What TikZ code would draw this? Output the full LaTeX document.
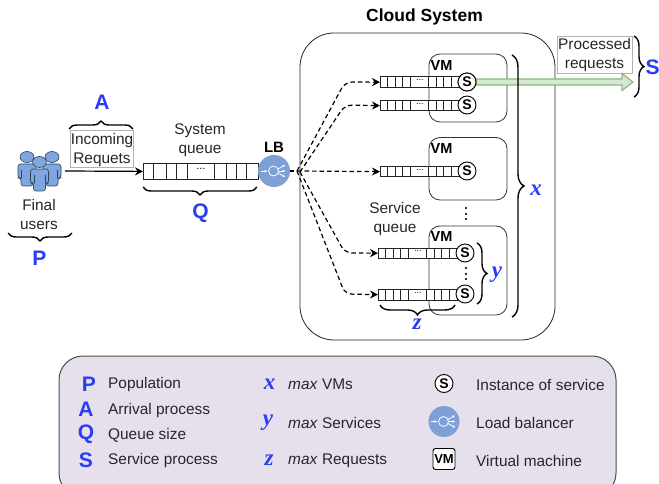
\documentclass[tikz,border=0pt]{standalone}
\usepackage{fontspec}
\setmainfont{Liberation Sans}
\newfontfamily\mathlike{Liberation Serif}
\usetikzlibrary{arrows.meta,decorations.pathreplacing}
\definecolor{bluetxt}{HTML}{2A3CF5}
\definecolor{lbblue}{HTML}{7EA0D6}
\definecolor{people}{HTML}{7EA6E0}
\definecolor{peopleline}{HTML}{314354}
\definecolor{legendbg}{HTML}{E6E0EC}
\definecolor{arrowfill}{HTML}{D5E8D4}
\definecolor{arrowline}{HTML}{8DB87A}
\tikzset{
  txt/.style={font=\fontsize{15.4}{18}\selectfont,text=black!85,inner sep=0pt},
  legtxt/.style={txt,anchor=west},
  bigl/.style={font=\fontsize{21}{22}\selectfont\bfseries,text=bluetxt,inner sep=0pt},
  mathl/.style={font=\fontsize{23}{22}\mathlike\bfseries\itshape,text=bluetxt,inner sep=0pt},
  boldl/.style={font=\fontsize{15}{16}\selectfont\bfseries,inner sep=0pt},
  vmlabel/.style={font=\fontsize{14.5}{15}\selectfont\bfseries,inner sep=0pt},
  vmbox/.style={draw=black!80,line width=0.8pt,rounded corners=11pt},
  svc/.style={circle,draw=black,line width=0.9pt,fill=white,minimum size=18pt,inner sep=0pt,font=\fontsize{14}{14}\selectfont\bfseries},
  lbnode/.style={circle,fill=lbblue,minimum size=32pt,inner sep=0pt},
  curly/.style={decorate,decoration={brace,amplitude=#1,aspect=0.5},line width=1.4pt,draw=black},
  curly/.default=8pt,
  tbox/.style={draw=black!30,line width=0.6pt,fill=white},
  req/.style={dashed,dash pattern=on 4.5pt off 3pt,line width=1.2pt,rounded corners=7pt,-{Stealth[length=8pt,width=8pt]}},
  dotsv/.style={line width=1.8pt,dash pattern=on 2pt off 3.5pt,draw=black!80},
  cellline/.style={draw=black!85,line width=0.8pt},
}
% service queue: name, left x, top y, height
\newcommand{\svcqueue}[4]{%
  \node[draw=black!85,line width=0.8pt,fill=white,minimum width=79pt,minimum height=#4pt,inner sep=0pt,anchor=north west] (#1) at (#2,#3) {};
  \foreach \c in {7.5,15,22.5,30,48.5,56,63.5,71.5}{\draw[cellline] ([xshift=\c pt]#1.north west) -- ([xshift=\c pt]#1.south west);}
  \node[font=\fontsize{9}{9}\selectfont,inner sep=0pt,yshift=2pt] at (#1.center) {...};
}
\newcommand{\person}[2]{%
  \begin{scope}[shift={(#1,#2)}]
    \draw[fill=people,draw=peopleline,line width=0.6pt,rounded corners=2.5pt]
      (-9,7) -- (9,7) -- (9,21) -- (6,21) -- (6,29) -- (-6,29) -- (-6,21) -- (-9,21) -- cycle;
    \draw[draw=peopleline,line width=0.5pt] (-5.5,13) -- (-5.5,21) (5.5,13) -- (5.5,21);
    \draw[fill=people,draw=peopleline,line width=0.6pt] (0,0) ellipse (7pt and 5.5pt);
  \end{scope}}
\newcommand{\lbicon}[2]{%
  \begin{scope}[shift={(#1)},scale=#2,draw=white,line width=0.8pt]
    \draw[-{Stealth[length=2.5pt,width=2.5pt]}] (-13.5,0) -- (-7,0);
    \draw (-0.5,0) circle (5pt);
    \draw[-{Stealth[length=2.5pt,width=2.5pt]}] (4,-2) -- (11,-6);
    \draw[-{Stealth[length=2.5pt,width=2.5pt]}] (5,0) -- (11,0);
    \draw[-{Stealth[length=2.5pt,width=2.5pt]}] (4,2) -- (11,6);
  \end{scope}}
\begin{document}
\begin{tikzpicture}[x=1pt,y=-1pt]
\useasboundingbox (0,0) rectangle (659,484);
% Cloud
\node[font=\fontsize{17.5}{18}\selectfont\bfseries,inner sep=0pt] (cloudtitle) at (424.5,17) {Cloud System};
\draw[line width=0.8pt,draw=black!85,rounded corners=34pt] (300,33) rectangle (555,340);
% VMs
\draw[vmbox] (429,54) rectangle (507,122);
\draw[vmbox] (429,137.5) rectangle (507,200);
\draw[vmbox] (429,226) rectangle (507,315);
\node[vmlabel] (vm1) at (441.5,65.5) {VM};
\node[vmlabel] (vm2) at (441.5,148.5) {VM};
\node[vmlabel] (vm3) at (441.5,237) {VM};
% Service queues
\svcqueue{q1}{380}{76.5}{10.5}
\svcqueue{q2}{380}{100}{10.5}
\svcqueue{q3}{380}{166}{10.5}
\svcqueue{q4}{378}{247.5}{10.5}
\svcqueue{q5}{378}{289}{10.5}
\node[svc] (s1) at (467,82) {S};
\node[svc] (s2) at (467,105) {S};
\node[svc] (s3) at (467,171) {S};
\node[svc] (s4) at (465,253) {S};
\node[svc] (s5) at (465,294) {S};
\coordinate (d1a) at (466,207); \coordinate (d1b) at (466,221);
\draw[dotsv] (d1a) -- (d1b);
\coordinate (d2a) at (466,267); \coordinate (d2b) at (466,281);
\draw[dotsv] (d2a) -- (d2b);
\node[txt,align=center] (svcq) at (395,219.5) {Service\\[1pt]queue};
% Left side
\person{27}{157}
\person{52}{157}
\person{39.5}{162}
\coordinate (usersout) at (65,171);
\node[txt,align=center] (final) at (39,214) {Final\\[1pt]users};
\node[tbox,minimum width=63pt,minimum height=37pt,inner sep=0pt] (incbox) at (101.5,149) {};
\node[txt,align=center] (inc) at (102,150.5) {Incoming\\[1pt]Requets};
\node[draw=black!85,line width=0.8pt,fill=white,minimum width=115pt,minimum height=16pt,inner sep=0pt,anchor=north west] (sq) at (143,163) {};
\foreach \c in {10,23,33,44,71,83,93,103}{\draw[cellline] ([xshift=\c pt]sq.north west) -- ([xshift=\c pt]sq.south west);}
\node[font=\fontsize{11}{11}\selectfont,inner sep=0pt,yshift=2pt] (sqdots) at (sq.center) {...};
\node[txt,align=center] (sysq) at (200,140.5) {System\\[1pt]queue};
\draw[-{Stealth[length=8pt,width=8pt]},line width=1.2pt] (usersout) -- (sq.west);
\node[lbnode] (lb) at (274,171) {};
\lbicon{lb.center}{1}
\node[boldl] (lbl) at (274,147) {LB};
% Requests
\coordinate (fan) at (297,171);
\draw[dashed,dash pattern=on 4pt off 3pt,line width=1.3pt] (lb.east) -- (fan);
\coordinate (b1) at (345,82); \coordinate (b2) at (345,105);
\coordinate (b4) at (345,253); \coordinate (b5) at (345,294);
\draw[req] (fan) -- (b1) -- (q1.west);
\draw[req] (fan) ++(3,1) -- (b2) -- (q2.west);
\draw[req] (fan) -- (q3.west);
\draw[req] (fan) ++(3,1) -- (b4) -- (q4.west);
\draw[req] (fan) -- (b5) -- (q5.west);
% Output arrow
\node[tbox,minimum width=75pt,minimum height=37pt,inner sep=0pt] (procbox) at (594.5,54.5) {};
\node[txt,align=center] (proc) at (594.5,55.5) {Processed\\[1pt]requests};
\coordinate (outtip) at (633,82);
\draw[fill=arrowfill,draw=arrowline,line width=1.2pt,line join=miter]
  (s1.east |- 0,79) -- (622,79) -- (622,73.5) -- (outtip) -- (622,90.5) -- (622,85) -- (s1.east |- 0,85) -- cycle;
\node[svc] at (s1) {S};
% Braces
\coordinate (pa) at (8,233); \coordinate (pb) at (72,233);
\draw[curly] (pb) -- (pa);
\coordinate (aa) at (69,129); \coordinate (ab) at (133,129);
\draw[curly] (aa) -- (ab);
\coordinate (qa) at (143,187); \coordinate (qb) at (257,187);
\draw[curly] (qb) -- (qa);
\coordinate (sa) at (634,36); \coordinate (sb) at (634,97);
\draw[curly=10pt] (sa) -- (sb);
\coordinate (xa) at (512,55); \coordinate (xb) at (512,317);
\draw[curly=12pt] (xa) -- (xb);
\coordinate (ya) at (477,243); \coordinate (yb) at (477,304);
\draw[curly=10pt] (ya) -- (yb);
\coordinate (za) at (455,305); \coordinate (zb) at (380,305);
\draw[curly=10pt] (za) -- (zb);
\node[bigl] (lp) at (39.5,258) {P};
\node[bigl] (la) at (102,102) {A};
\node[bigl] (lq) at (200.5,213) {Q};
\node[bigl,anchor=west] (ls) at (645.5,67) {S};
\node[mathl] (lx) at (536,190) {x};
\node[mathl] (ly) at (497,275) {y};
\node[mathl] (lz) at (417,324) {z};
% Legend
\draw[fill=legendbg,draw=black!70,line width=1pt,rounded corners=24pt] (59,356) rectangle (616,497);
\node[bigl] (kp) at (89,384) {P};
\node[bigl] (ka) at (86,409.5) {A};
\node[bigl] (kq) at (86,434.5) {Q};
\node[bigl] (ks) at (86,460) {S};
\node[legtxt] (tp) at (108,384.5) {Population};
\node[legtxt] (ta) at (108,410.5) {Arrival process};
\node[legtxt] (tq) at (108,435.5) {Queue size};
\node[legtxt] (ts) at (108,460.5) {Service process};
\node[mathl] (kx) at (269.5,384) {x};
\node[mathl] (ky) at (268,423) {y};
\node[mathl] (kz) at (269,460.5) {z};
\node[legtxt] (tx) at (288,384.5) {\textit{max} VMs};
\node[legtxt] (ty) at (288,422.5) {\textit{max} Services};
\node[legtxt] (tz) at (288,460.5) {\textit{max} Requests};
\node[svc] (ki) at (444,383.5) {S};
\node[lbnode,minimum size=31pt] (kl) at (444,421.5) {};
\lbicon{kl.center}{1}
\node[draw=black,fill=white,line width=0.9pt,rounded corners=2.5pt,minimum width=22pt,minimum height=21pt,inner sep=0pt,font=\fontsize{13}{13}\selectfont\bfseries] (kv) at (444,459) {VM};
\node[legtxt] (ti) at (476,384.5) {Instance of service};
\node[legtxt] (tl) at (476,422.5) {Load balancer};
\node[legtxt] (tv) at (476,460.5) {Virtual machine};
\end{tikzpicture}
\end{document}
